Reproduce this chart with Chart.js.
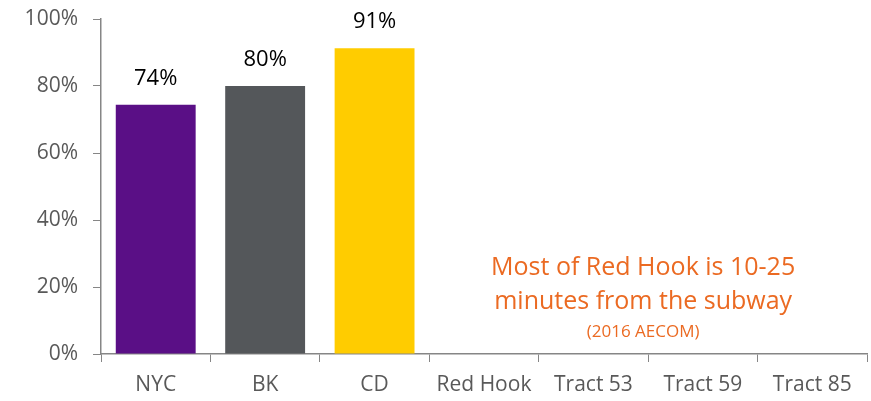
<!DOCTYPE html>
<html>
<head>
<meta charset="utf-8">
<script src="https://cdn.jsdelivr.net/npm/chart.js@4/dist/chart.umd.min.js"></script>
<style>
    html, body { margin: 0; padding: 0; background: #fff; }
    #wrap { width: 871px; height: 401px; position: relative; }
</style>
</head>
<body>
<div id="wrap"><canvas id="chart"></canvas></div>
<script>
// categories and values
const categories = ['NYC', 'BK', 'CD', 'Red Hook', 'Tract 53', 'Tract 59', 'Tract 85'];
const shares = [74.4, 80, 91.3, null, null, null, null];
const barColors = ['#5A0F86', '#54575A', '#FFCC00', '#FFCC00', '#FFCC00', '#FFCC00', '#FFCC00'];
const yTicks = [0, 20, 40, 60, 80, 100];
const noteLines = ['Most of Red Hook is 10-25', 'minutes from the subway'];
const noteSource = '(2016 AECOM)';

const FONT = '"Open Sans", Lato, sans-serif';

// value labels above each bar
const valueLabels = {
    id: 'valueLabels',
    afterDatasetsDraw(chart) {
        const ctx = chart.ctx;
        const meta = chart.getDatasetMeta(0);
        ctx.save();
        ctx.font = '22px ' + FONT;
        ctx.fillStyle = '#000';
        ctx.textAlign = 'center';
        ctx.textBaseline = 'middle';
        meta.data.forEach((bar, i) => {
            if (shares[i] == null) return;
            ctx.fillText(Math.round(shares[i]) + '%', bar.x, bar.y - 26);
        });
        ctx.restore();
    }
};

// orange note in the empty part of the chart
const note = {
    id: 'note',
    afterDraw(chart) {
        const ctx = chart.ctx;
        const x = chart.scales.x;
        const y = chart.scales.y;
        const cx = (x.getPixelForValue(4) + x.getPixelForValue(5)) / 2 - 5;
        ctx.save();
        ctx.fillStyle = '#EB6A22';
        ctx.textAlign = 'center';
        ctx.textBaseline = 'middle';
        ctx.font = '25px ' + FONT;
        ctx.fillText(noteLines[0], cx, y.getPixelForValue(25.8));
        ctx.fillText(noteLines[1], cx, y.getPixelForValue(15.6));
        ctx.font = '17px ' + FONT;
        ctx.fillText(noteSource, cx, y.getPixelForValue(6.4));
        ctx.restore();
    }
};

new Chart(document.getElementById('chart'), {
    type: 'bar',
    data: {
        labels: categories,
        datasets: [{
            data: shares,
            backgroundColor: barColors,
            categoryPercentage: 0.73,
            barPercentage: 1
        }]
    },
    options: {
        responsive: true,
        maintainAspectRatio: false,
        animation: false,
        layout: { padding: { top: 0, right: 4, left: 4, bottom: 0 } },
        plugins: { legend: { display: false }, tooltip: { enabled: false } },
        scales: {
            x: {
                afterFit: (axis) => { axis.height = 47; },
                grid: { display: true, drawOnChartArea: false, drawTicks: true, tickLength: 8, color: '#868686', offset: true },
                border: { color: '#868686', width: 1.5 },
                ticks: { color: '#595959', font: { size: 21, family: FONT }, padding: 10, maxRotation: 0, autoSkip: false }
            },
            y: {
                min: 0,
                max: 100,
                afterBuildTicks: (axis) => { axis.ticks = yTicks.map(v => ({ value: v })); },
                afterFit: (axis) => { axis.width = 97; axis.paddingTop = 19; },
                grid: { display: true, drawOnChartArea: false, drawTicks: true, tickLength: 8, color: '#868686' },
                border: { color: '#868686', width: 1.5 },
                ticks: { color: '#595959', font: { size: 21, family: FONT }, padding: 15, callback: v => v + '%' }
            }
        }
    },
    plugins: [valueLabels, note]
});
</script>
</body>
</html>
